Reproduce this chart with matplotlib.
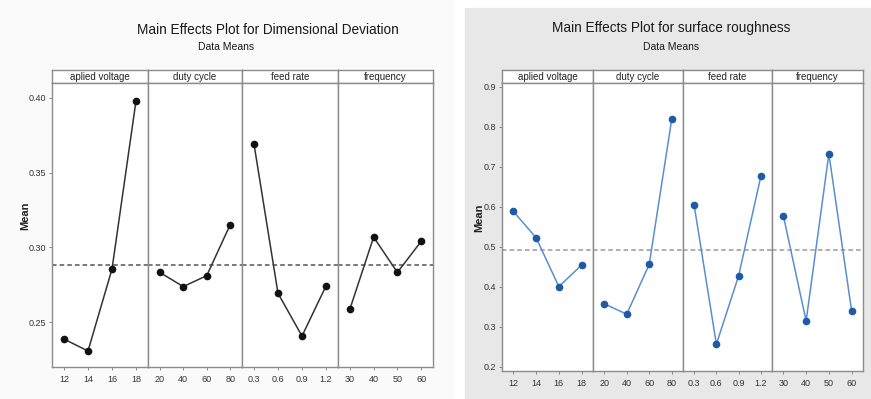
import matplotlib.pyplot as plt
from matplotlib.patches import Rectangle

plt.rcParams['font.family'] = ['Liberation Sans', 'DejaVu Sans']

W, H = 871, 399

factors = ['aplied voltage', 'duty cycle', 'feed rate', 'frequency']
levels = [['12', '14', '16', '18'],
          ['20', '40', '60', '80'],
          ['0.3', '0.6', '0.9', '1.2'],
          ['30', '40', '50', '60']]

# dimensional deviation means
dd_means = [[0.2387, 0.2307, 0.2855, 0.398],
            [0.2833, 0.2738, 0.2811, 0.3153],
            [0.3691, 0.2693, 0.2407, 0.2742],
            [0.2587, 0.3069, 0.2833, 0.3040]]
dd_grand = 0.288

# surface roughness means
sr_means = [[0.589, 0.523, 0.401, 0.455],
            [0.358, 0.332, 0.457, 0.820],
            [0.605, 0.257, 0.428, 0.677],
            [0.578, 0.315, 0.733, 0.340]]
sr_grand = 0.4925


def px_axes(fig, x0, x1, y0, y1):
    # pixel box (top-left origin) -> figure axes
    return fig.add_axes([x0 / W, 1 - y1 / H, (x1 - x0) / W, (y1 - y0) / H])


def main_effects(fig, edges, top, bottom, means, grand, ylim, yticks, fmt,
                 line_col, mark_col, mean_col):
    for i in range(4):
        x0, x1 = edges[i], edges[i + 1]
        # strip header
        st = px_axes(fig, x0, x1, top - 13, top)
        st.set_xticks([])
        st.set_yticks([])
        st.set_facecolor('white')
        for s in st.spines.values():
            s.set_color('#8c8c8c')
            s.set_linewidth(1.0)
        st.text(0.5, 0.45, factors[i], ha='center', va='center',
                fontsize=7, color='#222222', transform=st.transAxes)

        ax = px_axes(fig, x0, x1, top, bottom)
        ax.set_facecolor('white')
        pos = [1, 2, 3, 4]
        ax.axhline(grand, color=mean_col, ls=(0, (3, 2)), lw=1.1, zorder=1)
        ax.plot(pos, means[i], '-', color=line_col, lw=1.1, zorder=2)
        ax.plot(pos, means[i], 'o', color=mark_col, ms=4.5, zorder=3)
        ax.set_xlim(0.5, 4.5)
        ax.set_ylim(*ylim)
        ax.set_xticks(pos)
        ax.set_xticklabels(levels[i])
        ax.tick_params(axis='x', length=2.5, width=0.6, color='#777777',
                       labelsize=6.5, labelcolor='#333333', pad=3)
        if i == 0:
            ax.set_yticks(yticks)
            ax.set_yticklabels([fmt % t for t in yticks])
            ax.tick_params(axis='y', length=2.5, width=0.6, color='#777777',
                           labelsize=6.5, labelcolor='#333333', pad=2)
        else:
            ax.set_yticks([])
        for s in ax.spines.values():
            s.set_color('#8c8c8c')
            s.set_linewidth(1.0)


fig = plt.figure(figsize=(W / 100, H / 100), dpi=100, facecolor='white')

# backgrounds of the two pasted charts
fig.patches.append(Rectangle((0, 0), 453 / W, 1, transform=fig.transFigure,
                             color='#fafafa', zorder=-10))
fig.patches.append(Rectangle((465 / W, 0), (W - 465) / W, 1 - 8 / H,
                             transform=fig.transFigure, color='#e8e8e8',
                             zorder=-10))

main_effects(fig, [52, 148, 242, 338, 433], 83, 367, dd_means, dd_grand,
             (0.22, 0.41), [0.25, 0.30, 0.35, 0.40], '%.2f',
             '#333333', '#111111', '#555555')
main_effects(fig, [502, 593, 683, 772, 863], 83, 371, sr_means, sr_grand,
             (0.19, 0.91), [0.2, 0.3, 0.4, 0.5, 0.6, 0.7, 0.8, 0.9], '%.1f',
             '#5a8ed0', '#1f5aa6', '#9a9a9a')

fig.text(268 / W, 1 - 30 / H, 'Main Effects Plot for Dimensional Deviation',
         ha='center', va='center', fontsize=9.8, color='#1a1a1a')
fig.text(226 / W, 1 - 47 / H, 'Data Means', ha='center', va='center',
         fontsize=7.5, color='#1a1a1a')
fig.text(671 / W, 1 - 28 / H, 'Main Effects Plot for surface roughness',
         ha='center', va='center', fontsize=9.8, color='#1a1a1a')
fig.text(671 / W, 1 - 47 / H, 'Data Means', ha='center', va='center',
         fontsize=7.5, color='#1a1a1a')

# y axis labels
fig.text(25 / W, 1 - 216 / H, 'Mean', rotation=90, ha='center', va='center',
         fontsize=8, fontweight='bold', color='#222222')
fig.text(479 / W, 1 - 218 / H, 'Mean', rotation=90, ha='center', va='center',
         fontsize=8, fontweight='bold', color='#222222')

fig.savefig('out.png', dpi=100)
